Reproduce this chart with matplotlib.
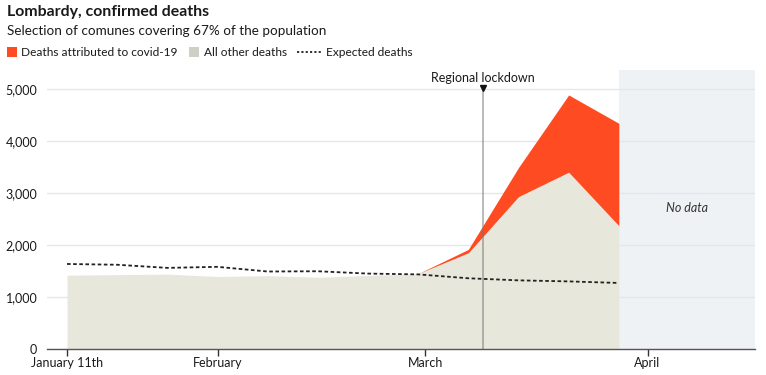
import pandas as pd
import matplotlib.pyplot as plt
from matplotlib.patches import Rectangle
from matplotlib.lines import Line2D

plt.rcParams['font.family'] = ['Lato', 'DejaVu Sans']

# weekly data, Lombardy (selection of comunes)
weeks = pd.date_range("2020-01-11", "2020-03-28", freq="7D")
other_deaths = [1420, 1430, 1440, 1395, 1410, 1380, 1415, 1450, 1850, 2930, 3400, 2370]
covid_deaths = [0, 0, 0, 0, 0, 0, 0, 0, 65, 560, 1485, 1970]
expected_deaths = [1635, 1620, 1560, 1580, 1490, 1495, 1450, 1435, 1360, 1320, 1300, 1270]

lockdown_date = pd.Timestamp("2020-03-09")
no_data_end = pd.Timestamp("2020-04-16")
x_start = pd.Timestamp("2020-01-08 05:00")

tick_dates = pd.to_datetime(["2020-01-11", "2020-02-01", "2020-03-01", "2020-04-01"])
tick_labels = ["January 11th", "February", "March", "April"]
y_ticks = [0, 1000, 2000, 3000, 4000, 5000]

red = "#FF4B21"
beige = "#E8E7DC"
grid_col = "#E2E7EC"
nodata_col = "#EFF2F5"
text_col = "#1a1a1a"

fig = plt.figure(figsize=(7.66, 3.75), dpi=100)
ax = fig.add_axes([47 / 766, 1 - 349 / 375, (755 - 47) / 766, (349 - 70) / 375])

other = pd.Series(other_deaths, index=weeks)
total = other + pd.Series(covid_deaths, index=weeks)

ax.axvspan(weeks[-1], no_data_end, color=nodata_col, zorder=0, lw=0)
ax.fill_between(weeks, 0, other, color=beige, lw=0, zorder=1)
ax.fill_between(weeks, other, total, color=red, lw=0, zorder=1)
ax.plot(weeks, expected_deaths, color="#222222", lw=1.3, ls=(0, (2, 1.4)), zorder=3)

# lockdown marker
ax.plot([lockdown_date, lockdown_date], [0, 5000], color="#777777", lw=1.3, alpha=0.55, zorder=2)
ax.plot([lockdown_date], [5020], marker="v", color="#111111", ms=4, zorder=4, clip_on=False)
ax.text(lockdown_date, 5220, "Regional lockdown", ha="center", va="center",
        fontsize=9, color=text_col)

no_data_mid = weeks[-1] + (no_data_end - weeks[-1]) / 2
ax.text(no_data_mid, 2720, "No data", ha="center", va="center",
        fontsize=9, style="italic", color="#333333")

ax.set_xlim(x_start, no_data_end)
ax.set_ylim(0, 5365)

ax.set_yticks(y_ticks)
ax.set_yticklabels([f"{v:,}" for v in y_ticks], fontsize=9, color=text_col)
ax.tick_params(axis="y", length=0, pad=7)
ax.yaxis.grid(True, color=grid_col, lw=1)
ax.set_axisbelow(True)

ax.set_xticks(tick_dates)
ax.set_xticklabels(tick_labels, fontsize=9, color=text_col)
ax.tick_params(axis="x", length=5, width=1, color="#333333", pad=1)

for side in ["top", "right", "left"]:
    ax.spines[side].set_visible(False)
ax.spines["bottom"].set_color("#555555")
ax.spines["bottom"].set_linewidth(1)

# title block
fig.text(7 / 766, 1 - 12 / 375, "Lombardy, confirmed deaths", fontsize=11.4,
         fontweight="bold", color=text_col, va="center", ha="left")
fig.text(7 / 766, 1 - 31 / 375, "Selection of comunes covering 67% of the population",
         fontsize=9.75, color=text_col, va="center", ha="left")

# legend
ly = 1 - 52 / 375
fig.add_artist(Rectangle((7 / 766, 1 - 57 / 375), 10 / 766, 10 / 375,
                         transform=fig.transFigure, color=red, lw=0))
fig.text(21 / 766, ly, "Deaths attributed to covid-19", fontsize=8.6,
         color=text_col, va="center", ha="left")
fig.add_artist(Rectangle((189 / 766, 1 - 57 / 375), 10 / 766, 10 / 375,
                         transform=fig.transFigure, color="#D0CFC6", lw=0))
fig.text(204 / 766, ly, "All other deaths", fontsize=8.6,
         color=text_col, va="center", ha="left")
fig.add_artist(Line2D([297 / 766, 321 / 766], [ly, ly], transform=fig.transFigure,
                      color="#222222", lw=1.3, ls=(0, (1.2, 1.2))))
fig.text(326 / 766, ly, "Expected deaths", fontsize=8.6,
         color=text_col, va="center", ha="left")

fig.savefig("out.png", dpi=100)
